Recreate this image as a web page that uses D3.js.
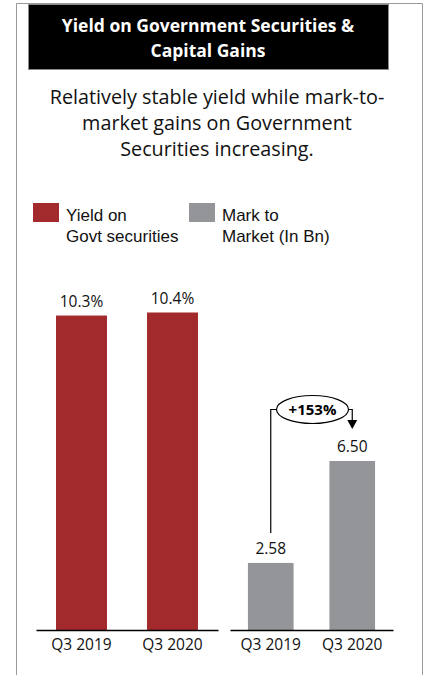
<!DOCTYPE html>
<html>
<head>
<meta charset="utf-8">
<script src="https://cdn.jsdelivr.net/npm/d3@7"></script>
<style>
  html, body { margin: 0; padding: 0; background: #fff; }
  svg { display: block; }
</style>
</head>
<body>
<svg id="chart" width="425" height="675"></svg>
<script>
// Chart data
const categories = ["Q3 2019", "Q3 2020"];
const yieldValues = [10.3, 10.4];          // % yield on govt securities
const mtmValues = [2.58, 6.50];            // mark to market, in Bn
const yieldLabels = ["10.3%", "10.4%"];
const mtmLabels = ["2.58", "6.50"];
const growthLabel = "+153%";
const titleLines = ["Yield on Government Securities &", "Capital Gains"];
const subtitleLines = ["Relatively stable yield while mark-to-", "market gains on Government", "Securities increasing."];
const legendItems = [
  { lines: ["Yield on", "Govt securities"], color: "#a2292c" },
  { lines: ["Mark to", "Market (In Bn)"], color: "#939598" }
];

const RED = "#a2292c", GREY = "#939598";
const svg = d3.select("#chart");
const mainFont = "'Open Sans', 'Noto Sans', sans-serif";

// outer frame (top, left, right edges)
svg.append("path")
  .attr("d", "M16.5,675 V3.5 H422.5 V675")
  .attr("fill", "none").attr("stroke", "#9a9a9a").attr("stroke-width", 1);

// title block
svg.append("rect")
  .attr("x", 28.5).attr("y", 4.5).attr("width", 360).attr("height", 65)
  .attr("fill", "#000").attr("stroke", "#8a8a8a").attr("stroke-width", 1);
svg.append("g").selectAll("text").data(titleLines).join("text")
  .attr("x", 208).attr("y", (d, i) => 31.5 + i * 25.5)
  .attr("text-anchor", "middle")
  .attr("fill", "#fff")
  .style("font-family", mainFont).style("font-weight", 700).style("font-size", "17.5px")
  .text(d => d);

// subtitle
svg.append("g").selectAll("text").data(subtitleLines).join("text")
  .attr("x", 217).attr("y", (d, i) => 103.5 + i * 26)
  .attr("text-anchor", "middle")
  .attr("fill", "#111")
  .style("font-family", mainFont).style("font-size", "19.8px")
  .text(d => d);

// legend
const legendX = [33, 189];
const lg = svg.append("g").selectAll("g").data(legendItems).join("g")
  .attr("transform", (d, i) => `translate(${legendX[i]},203)`);
lg.append("rect").attr("width", 26).attr("height", 19).attr("fill", d => d.color);
lg.selectAll("text").data(d => d.lines).join("text")
  .attr("x", 33).attr("y", (d, i) => 17.5 + i * 21.5)
  .attr("fill", "#111")
  .style("font-family", "'Liberation Sans', Arial, sans-serif").style("font-size", "17px")
  .text(d => d);

const baseY = 630;

function panel(values, labels, x0, x1, yMax, yTop, color) {
  const x = d3.scaleBand().domain(categories).range([x0, x1])
    .paddingInner(0.44).paddingOuter(0.22);
  const y = d3.scaleLinear().domain([0, yMax]).range([baseY, yTop]);
  const g = svg.append("g");
  const data = categories.map((c, i) => ({ c, v: values[i], l: labels[i] }));
  g.selectAll("rect").data(data).join("rect")
    .attr("x", d => x(d.c)).attr("width", x.bandwidth())
    .attr("y", d => y(d.v)).attr("height", d => baseY - y(d.v))
    .attr("fill", color);
  g.selectAll("text.val").data(data).join("text").attr("class", "val")
    .attr("x", d => x(d.c) + x.bandwidth() / 2).attr("y", d => y(d.v) - 9)
    .attr("text-anchor", "middle").attr("fill", "#111")
    .style("font-family", mainFont).style("font-size", "15.5px")
    .text(d => d.l);
  const ax = g.append("g").attr("transform", `translate(0,${baseY})`)
    .call(d3.axisBottom(x).tickSize(0).tickSizeOuter(0).tickPadding(9));
  ax.select(".domain").attr("stroke", "#000").attr("stroke-width", 1.3);
  ax.selectAll("text").attr("fill", "#111")
    .style("font-family", mainFont).style("font-size", "15.5px");
  return { x, y };
}

panel(yieldValues, yieldLabels, 36, 218, 10.4, 312.5, RED);
const right = panel(mtmValues, mtmLabels, 230, 393, 6.5, 461, GREY);

// growth annotation: bracket from first bar label to arrow above second bar
const cx1 = right.x(categories[0]) + right.x.bandwidth() / 2;
const cx2 = right.x(categories[1]) + right.x.bandwidth() / 2;
const topY = 409.5;
const ex = (cx1 + cx2) / 2 + 1, erx = 36, ery = 14;
const ann = svg.append("g").attr("fill", "none").attr("stroke", "#000").attr("stroke-width", 1.2);
ann.append("path").attr("d", `M${cx1},${right.y(mtmValues[0]) - 30} V${topY} H${ex - erx}`);
ann.append("path").attr("d", `M${ex + erx},${topY} H${cx2} V${right.y(mtmValues[1]) - 41}`);
svg.append("path")
  .attr("d", `M${cx2 - 5},${right.y(mtmValues[1]) - 41} H${cx2 + 5} L${cx2},${right.y(mtmValues[1]) - 32} Z`)
  .attr("fill", "#000");
ann.append("ellipse").attr("cx", ex).attr("cy", topY).attr("rx", erx).attr("ry", ery).attr("fill", "#fff");
svg.append("text").attr("x", ex).attr("y", topY + 5)
  .attr("text-anchor", "middle").attr("fill", "#000")
  .style("font-family", mainFont).style("font-weight", 700).style("font-size", "15px")
  .text(growthLabel);
</script>
</body>
</html>
